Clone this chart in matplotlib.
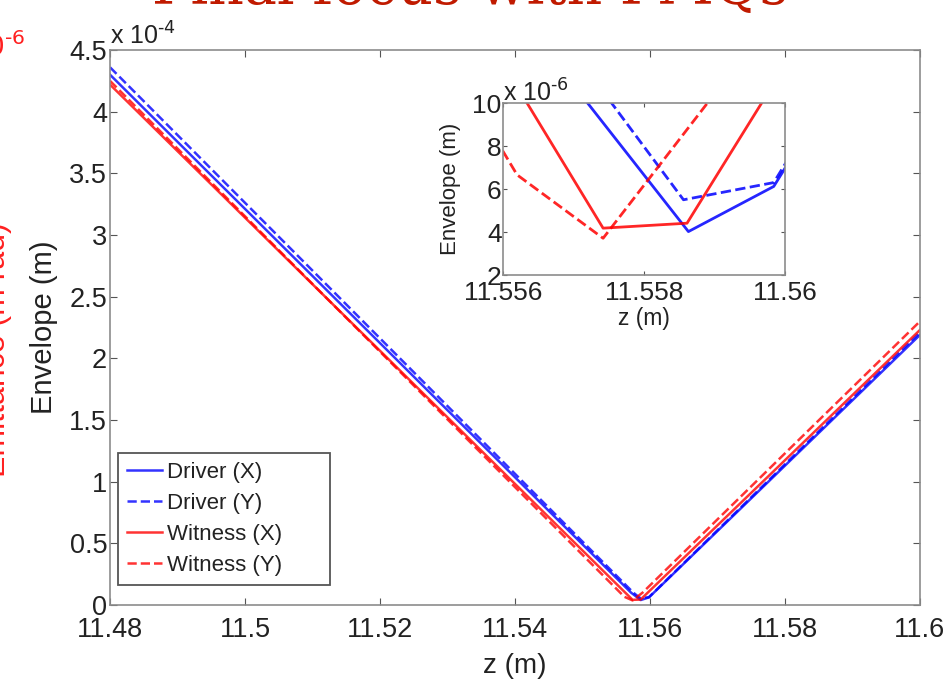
import matplotlib
matplotlib.use("Agg")
import matplotlib.pyplot as plt
from matplotlib.ticker import FuncFormatter, MultipleLocator

plt.rcParams['font.family'] = ['Liberation Sans', 'DejaVu Sans']

# envelope vs z for each beam / plane (m)
z_dx = [11.48, 11.5572, 11.55863, 11.55984, 11.60]
env_dx = [4.30e-4, 1.0e-5, 4.02e-6, 6.12e-6, 2.19e-4]

z_dy = [11.48, 11.55754, 11.55856, 11.55984, 11.60]
env_dy = [4.36e-4, 1.0e-5, 5.5e-6, 6.3e-6, 2.21e-4]

z_wx = [11.48, 11.55742, 11.55861, 11.60]
env_wx = [4.22e-4, 4.18e-6, 4.41e-6, 2.23e-4]

z_wy = [11.48, 11.5562, 11.55742, 11.5589, 11.60]
env_wy = [4.25e-4, 6.66e-6, 3.71e-6, 1.0e-5, 2.30e-4]

series = [
    ("Driver (X)", z_dx, env_dx, "#0000ff", "-"),
    ("Driver (Y)", z_dy, env_dy, "#0000ff", "--"),
    ("Witness (X)", z_wx, env_wx, "#ff0000", "-"),
    ("Witness (Y)", z_wy, env_wy, "#ff0000", "--"),
]

spine_col = "#8c8c8c"
txt_col = "#222222"

def style_axes(ax, size):
    for s in ax.spines.values():
        s.set_color(spine_col)
        s.set_linewidth(1.2)
    ax.tick_params(direction="in", top=True, right=True, length=5,
                   color="#555555", labelsize=size, labelcolor=txt_col)

def mult(p):
    # "x 10^p" with a plain hyphen in the exponent
    return r"x 10$^{\text{-}%d}$" % p

fig = plt.figure(figsize=(9.49, 6.86), dpi=100)

# main plot
ax = fig.add_axes([0.1159, 0.1181, 0.8535, 0.809])
for name, z, env, c, ls in series:
    ax.plot(z, env, color=c, ls=ls, lw=1.8, alpha=0.8, label=name)
ax.set_xlim(11.48, 11.6)
ax.set_ylim(0, 4.5e-4)
ax.xaxis.set_major_locator(MultipleLocator(0.02))
ax.yaxis.set_major_locator(MultipleLocator(0.5e-4))
ax.xaxis.set_major_formatter(FuncFormatter(lambda v, p: f"{v:g}"))
ax.yaxis.set_major_formatter(FuncFormatter(lambda v, p: f"{v*1e4:g}"))
style_axes(ax, 19.5)
ax.tick_params(axis="x", pad=9)
ax.tick_params(axis="y", pad=2)
ax.set_xlabel("z (m)", fontsize=20, color=txt_col, labelpad=7)
ax.set_ylabel("Envelope (m)", fontsize=21, color=txt_col, labelpad=8)
ax.text(0.0, 1.0, mult(4), transform=ax.transAxes, fontsize=18,
        color=txt_col, va="bottom", ha="left")
leg = ax.legend(loc="lower left", bbox_to_anchor=(0.0099, 0.036, 0.2617, 0.26),
                mode="expand", fontsize=16, handlelength=1.6,
                handletextpad=0.2, borderpad=0.4, borderaxespad=0,
                labelspacing=0.45, fancybox=False, framealpha=1)
leg.get_frame().set_edgecolor("#555555")
leg.get_frame().set_linewidth(1.3)
for t in leg.get_texts():
    t.set_color(txt_col)

# zoom on the focus
ins = fig.add_axes([0.530, 0.5991, 0.2972, 0.2507])
for name, z, env, c, ls in series:
    ins.plot(z, env, color=c, ls=ls, lw=2.0, alpha=0.85)
ins.set_xlim(11.556, 11.56)
ins.set_ylim(2e-6, 1e-5)
ins.xaxis.set_major_locator(MultipleLocator(0.002))
ins.yaxis.set_major_locator(MultipleLocator(2e-6))
ins.xaxis.set_major_formatter(FuncFormatter(lambda v, p: f"{v:g}"))
ins.yaxis.set_major_formatter(FuncFormatter(lambda v, p: f"{v*1e6:g}"))
style_axes(ins, 19)
ins.tick_params(length=3)
ins.tick_params(axis="x", pad=4)
ins.tick_params(axis="y", pad=1)
ins.set_xlabel("z (m)", fontsize=16.5, color=txt_col, labelpad=2)
ins.set_ylabel("Envelope (m)", fontsize=16, color=txt_col, labelpad=8)
ins.text(0.0, 0.98, mult(6), transform=ins.transAxes, fontsize=18,
         color=txt_col, va="bottom", ha="left")

# slide remnants around the figure
fig.text(0.495, 1 - 4 / 686, "Final focus with PMQs", fontsize=40,
         family="DejaVu Serif", color="#c01a00", ha="center", va="baseline")
fig.text(-3 / 949, 0.49, "Emittance (m rad)", rotation=90, fontsize=23,
         color="#ff2020", ha="center", va="center")
fig.text(25 / 949, 1 - 56 / 686, mult(6), fontsize=21, color="#ff2020",
         ha="right", va="baseline")

fig.savefig("out.png", dpi=100)
